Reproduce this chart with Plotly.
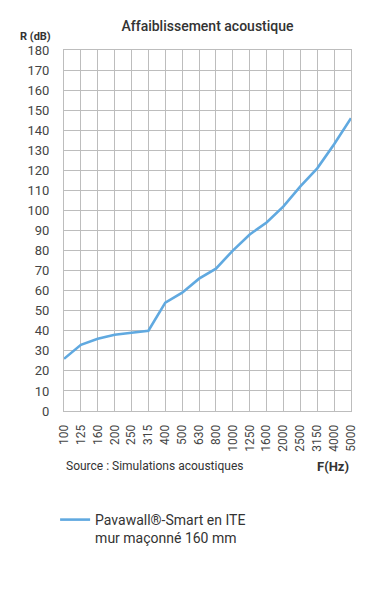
import plotly.graph_objects as go

freqs = ["100", "125", "160", "200", "250", "315", "400", "500", "630", "800",
         "1000", "1250", "1600", "2000", "2500", "3150", "4000", "5000"]
r_db = [26, 33, 36, 38, 39, 40, 54, 59, 66, 71, 80, 88, 94, 102, 112, 121, 133, 146]
y_ticks = list(range(0, 181, 10))
series_name = "Pavawall®-Smart en ITE<br>mur maçonné 160 mm"

FONT = "Roboto, sans-serif"
TXT = "#333333"
GRID = "#bdbdbd"

# page body has an 8px default margin, so the figure is 8px smaller
W, H = 370, 592
L, R, T, B = 56, 27, 42, 189
PH = H - T - B  # plot height in px

fig = go.Figure()
fig.add_trace(go.Scatter(
    x=list(range(len(freqs))), y=r_db, mode="lines", name=series_name,
    line=dict(color="#60A9E0", width=2.6), showlegend=True,
))

fig.update_layout(
    width=W, height=H,
    margin=dict(l=L, r=R, t=T, b=B),
    paper_bgcolor="white", plot_bgcolor="white",
    font=dict(family=FONT, color=TXT, size=12),
    title=dict(text="Affaiblissement acoustique", x=0.5, xref="paper",
               y=1 - 18 / H, yanchor="middle",
               font=dict(size=14, color=TXT, family=FONT, weight=500)),
    xaxis=dict(
        range=[0, len(freqs) - 1], tickmode="array",
        tickvals=list(range(len(freqs))), ticktext=freqs, tickangle=-90,
        showgrid=True, gridcolor=GRID, gridwidth=1,
        zeroline=False, showline=True, linecolor=GRID, mirror=True,
        ticks="", ticklabelstandoff=8, tickfont=dict(size=12, color="#444444"),
        fixedrange=True,
    ),
    yaxis=dict(
        range=[0, 180], tickmode="array", tickvals=y_ticks,
        showgrid=True, gridcolor=GRID, gridwidth=1,
        zeroline=False, showline=True, linecolor=GRID, mirror=True,
        ticks="", ticklabelstandoff=11, tickfont=dict(size=13, color="#444444"),
        fixedrange=True,
    ),
    legend=dict(x=-0.031, xanchor="left", y=-93 / PH, yanchor="top",
                valign="top", font=dict(size=14, color=TXT, family=FONT),
                itemwidth=30, bgcolor="rgba(0,0,0,0)"),
    annotations=[
        dict(text="R (dB)", xref="paper", yref="paper", x=-0.04, y=1 + 13 / PH,
             xanchor="right", yanchor="middle", showarrow=False,
             font=dict(size=11, color=TXT, family=FONT, weight="bold")),
        dict(text="Source : Simulations acoustiques", xref="paper", yref="paper",
             x=0.0, y=-55 / PH, xanchor="left", yanchor="middle",
             showarrow=False, font=dict(size=12, color=TXT, family=FONT)),
        dict(text="F(Hz)", xref="paper", yref="paper",
             x=1.0, y=-55 / PH, xanchor="right", yanchor="middle",
             showarrow=False, font=dict(size=13, color=TXT, family=FONT, weight="bold")),
    ],
)

fig.write_html("out.html")
